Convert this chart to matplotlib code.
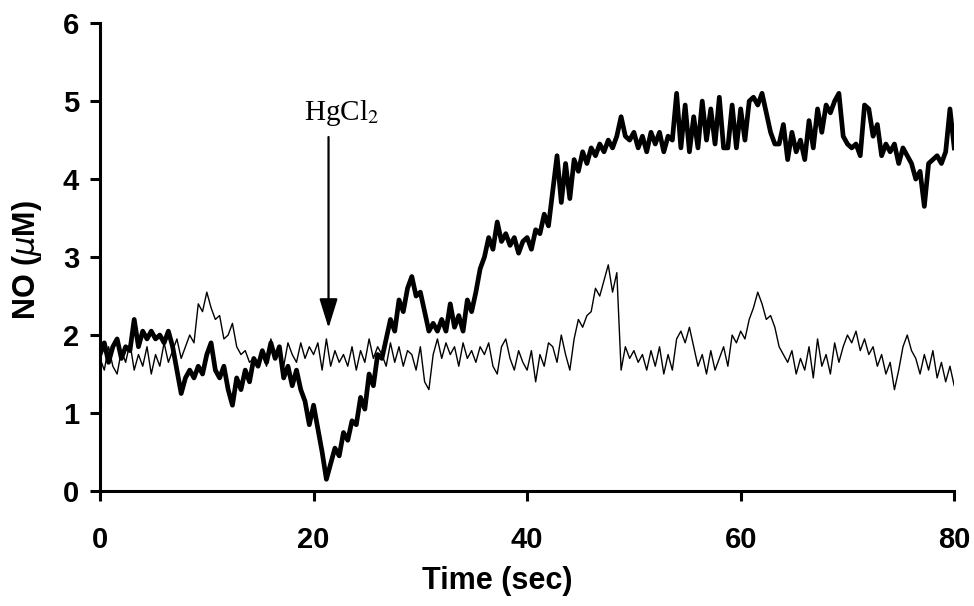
import numpy as np
import matplotlib.pyplot as plt

# NO trace after HgCl2 (thick) and control trace (thin), 0.4 s sampling
no_hgcl2 = [1.75, 1.9, 1.65, 1.85, 1.95, 1.7, 1.85, 1.8, 2.2, 1.85,
            2.05, 1.95, 2.05, 1.95, 2.0, 1.9, 2.05, 1.85, 1.55, 1.25,
            1.45, 1.55, 1.45, 1.6, 1.5, 1.75, 1.9, 1.55, 1.45, 1.6,
            1.3, 1.1, 1.45, 1.3, 1.55, 1.4, 1.7, 1.6, 1.8, 1.65,
            1.9, 1.7, 1.85, 1.45, 1.6, 1.35, 1.55, 1.3, 1.15, 0.85,
            1.1, 0.8, 0.5, 0.15, 0.35, 0.55, 0.45, 0.75, 0.65, 0.9,
            0.85, 1.2, 1.05, 1.5, 1.35, 1.75, 1.7, 1.95, 2.2, 2.05,
            2.45, 2.3, 2.6, 2.75, 2.5, 2.55, 2.3, 2.05, 2.15, 2.05,
            2.2, 2.05, 2.4, 2.1, 2.25, 2.05, 2.45, 2.3, 2.55, 2.85,
            3.0, 3.25, 3.1, 3.45, 3.2, 3.3, 3.15, 3.25, 3.05, 3.2,
            3.25, 3.1, 3.35, 3.3, 3.55, 3.4, 3.85, 4.3, 3.7, 4.2,
            3.75, 4.25, 4.1, 4.35, 4.2, 4.4, 4.3, 4.45, 4.35, 4.5,
            4.4, 4.55, 4.8, 4.55, 4.5, 4.6, 4.4, 4.55, 4.35, 4.6,
            4.45, 4.6, 4.35, 4.55, 4.5, 5.1, 4.4, 4.95, 4.35, 4.8,
            4.4, 5.0, 4.5, 4.9, 4.45, 5.05, 4.4, 4.4, 4.95, 4.4,
            4.9, 4.5, 5.0, 5.05, 4.95, 5.1, 4.85, 4.6, 4.45, 4.45,
            4.7, 4.25, 4.6, 4.35, 4.5, 4.25, 4.75, 4.4, 4.9, 4.6,
            4.95, 4.85, 5.0, 5.1, 4.55, 4.45, 4.4, 4.45, 4.3, 4.95,
            4.9, 4.55, 4.7, 4.3, 4.45, 4.35, 4.45, 4.2, 4.4, 4.3,
            4.2, 4.0, 4.1, 3.65, 4.2, 4.25, 4.3, 4.2, 4.35, 4.9, 4.4]

no_control = [1.7, 1.55, 1.85, 1.6, 1.5, 1.8, 1.65, 1.9, 1.55, 1.75,
              1.6, 1.85, 1.5, 1.75, 1.6, 1.9, 1.65, 1.8, 1.95, 1.7,
              1.85, 2.0, 1.9, 2.4, 2.3, 2.55, 2.35, 2.2, 2.25, 1.95,
              2.0, 2.15, 1.85, 1.75, 1.8, 1.65, 1.7, 1.65, 1.75, 1.6,
              1.95, 1.7, 1.85, 1.6, 1.9, 1.75, 1.65, 1.9, 1.7, 1.85,
              1.75, 1.9, 1.55, 1.95, 1.6, 1.8, 1.65, 1.75, 1.6, 1.85,
              1.55, 1.8, 1.65, 1.95, 1.7, 1.85, 1.75, 1.6, 1.9, 1.65,
              1.85, 1.6, 1.8, 1.75, 1.55, 1.85, 1.4, 1.3, 1.75, 1.95,
              1.7, 1.9, 1.75, 1.85, 1.6, 1.9, 1.7, 1.8, 1.65, 1.85,
              1.75, 1.9, 1.6, 1.5, 1.85, 1.95, 1.7, 1.55, 1.8, 1.65,
              1.55, 1.8, 1.4, 1.75, 1.6, 1.9, 1.85, 1.65, 2.0, 1.75,
              1.55, 1.95, 2.2, 2.1, 2.25, 2.3, 2.6, 2.5, 2.7, 2.9,
              2.55, 2.8, 1.55, 1.85, 1.7, 1.8, 1.65, 1.75, 1.55, 1.8,
              1.6, 1.85, 1.5, 1.75, 1.55, 1.95, 2.05, 1.9, 2.1, 1.85,
              1.6, 1.75, 1.5, 1.8, 1.55, 1.7, 1.85, 1.6, 2.0, 1.9,
              2.05, 1.95, 2.2, 2.35, 2.55, 2.4, 2.2, 2.25, 2.1, 1.85,
              1.75, 1.65, 1.8, 1.5, 1.7, 1.55, 1.85, 1.45, 1.95, 1.6,
              1.75, 1.5, 1.9, 1.65, 1.85, 2.0, 1.9, 2.05, 1.8, 1.95,
              1.75, 1.85, 1.6, 1.75, 1.5, 1.65, 1.3, 1.55, 1.85, 2.0,
              1.8, 1.7, 1.5, 1.75, 1.55, 1.8, 1.45, 1.65, 1.4, 1.6, 1.35]

time_sec = np.linspace(0, 80, len(no_hgcl2))

xticks = [0, 20, 40, 60, 80]
yticks = [0, 1, 2, 3, 4, 5, 6]

plt.rcParams['font.family'] = ['Liberation Sans', 'DejaVu Sans']

fig = plt.figure(figsize=(9.74, 6.06), dpi=100)
ax = fig.add_axes([0.1027, 0.1898, 0.877, 0.772])

ax.plot(time_sec, no_control, color='black', lw=1.0)
ax.plot(time_sec, no_hgcl2, color='black', lw=3.4)

ax.set_xlim(0, 80)
ax.set_ylim(0, 6)
ax.set_xticks(xticks)
ax.set_yticks(yticks)

for s in ['top', 'right']:
    ax.spines[s].set_visible(False)
for s in ['left', 'bottom']:
    ax.spines[s].set_linewidth(2.2)

ax.tick_params(axis='x', direction='out', length=7, width=2.2, pad=18, labelsize=21)
ax.tick_params(axis='y', direction='out', length=7, width=2.2, pad=8, labelsize=21)
for lab in ax.get_xticklabels() + ax.get_yticklabels():
    lab.set_fontweight('bold')

ax.set_xlabel('Time (sec)', fontsize=22, fontweight='bold')
ax.set_ylabel(r'NO ($\mu$M)', fontsize=22, fontweight='bold')
ax.xaxis.set_label_coords(0.4655, -0.16)
ax.yaxis.set_label_coords(-0.066, 0.494)

# HgCl2 addition marker
ax.text(22.6, 5.04, 'HgCl$_2$', ha='center', va='top', fontsize=21,
        family='Liberation Serif', math_fontfamily='stix')
ax.annotate('', xy=(21.4, 2.09), xytext=(21.4, 4.54),
            arrowprops=dict(arrowstyle='-|>,head_length=0.9,head_width=0.28',
                            color='black', lw=1.6, mutation_scale=20,
                            shrinkA=0, shrinkB=0))

fig.savefig('out.png', dpi=100)
